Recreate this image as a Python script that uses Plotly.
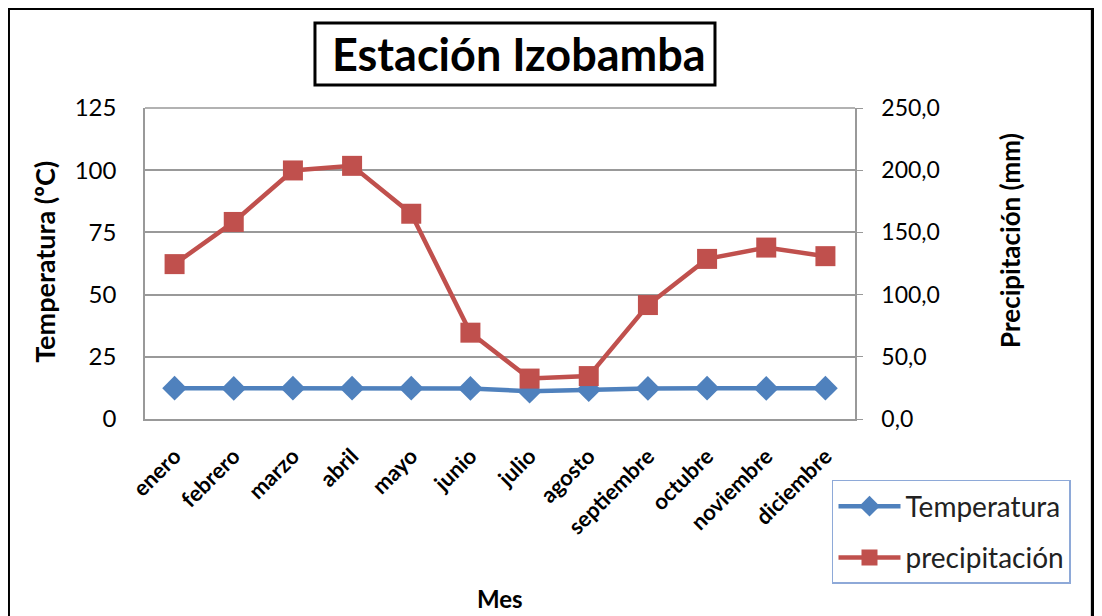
import plotly.graph_objects as go

meses = ['enero', 'febrero', 'marzo', 'abril', 'mayo', 'junio', 'julio',
         'agosto', 'septiembre', 'octubre', 'noviembre', 'diciembre']
temperatura = [12.4, 12.3, 12.4, 12.4, 12.4, 12.3, 11.2, 11.8, 12.3, 12.4, 12.3, 12.4]
precipitacion = [124.5, 158.4, 199.8, 203.5, 165.0, 69.4, 32.5, 34.5, 91.6, 128.7, 137.8, 130.9]

azul = '#4F81BD'
rojo = '#C0504D'
fuente = 'Lato'

fig = go.Figure()
fig.add_trace(go.Scatter(x=meses, y=temperatura, name='Temperatura', mode='lines+markers',
                         legendgroup='t', line=dict(color=azul, width=4.5),
                         marker=dict(symbol='diamond', size=19, color=azul)))
fig.add_trace(go.Scatter(x=meses, y=precipitacion, name='precipitación', mode='lines+markers',
                         legendgroup='p', yaxis='y2', line=dict(color=rojo, width=4.5),
                         marker=dict(symbol='square', size=20, color=rojo)))

# la pagina tiene un margen de 8px, por eso el lienzo es 1094x608
fig.update_layout(
    width=1094, height=608,
    margin=dict(l=137, r=247, t=100, b=197, autoexpand=False),
    paper_bgcolor='white', plot_bgcolor='white',
    separators=',.',
    font=dict(family=fuente, size=20, color='black'),
    xaxis=dict(tickangle=-45, showgrid=False, showline=True, linecolor='#999999', linewidth=1.5,
               ticks='', ticklabelstandoff=14,
               tickfont=dict(family=fuente, size=22, color='black', weight='bold'),
               range=[-0.5, 11.5]),
    yaxis=dict(range=[0, 125], dtick=25, showgrid=True, gridcolor='#999999', gridwidth=1.5,
               showline=True, linecolor='#999999', linewidth=1.5, zeroline=False,
               ticks='', ticklabelstandoff=22, tickfont=dict(size=24)),
    yaxis2=dict(range=[0, 250], dtick=50, tickformat='.1f', overlaying='y', side='right',
                showgrid=False, showline=True, linecolor='#999999', linewidth=1.5, zeroline=False,
                ticks='outside', ticklen=6, tickcolor='#999999', ticklabelstandoff=14,
                tickfont=dict(size=23)),
    legend=dict(x=0.9676, y=-0.196, xanchor='left', yanchor='top',
                bordercolor='#8EA9D8', borderwidth=1.5, bgcolor='white',
                font=dict(size=28, color='#222222'), itemwidth=62, tracegroupgap=12),
    showlegend=True,
)

# marco exterior
fig.add_shape(type='rect', xref='paper', yref='paper', x0=-0.193, x1=1.335, y0=-0.7, y1=1.3215,
              line=dict(color='black', width=4), layer='below')
# borde superior del area de trazado
fig.add_shape(type='line', xref='paper', yref='paper', x0=0, x1=1, y0=1, y1=1,
              line=dict(color='#999999', width=1.5))
# recuadro del titulo
fig.add_shape(type='rect', xref='paper', yref='paper', x0=0.2394, x1=0.8028, y0=1.074, y1=1.2733,
              line=dict(color='black', width=3), fillcolor='white')

fig.add_annotation(text='Estación Izobamba', xref='paper', yref='paper', x=0.5268, y=1.1736,
                   xanchor='center', yanchor='middle', showarrow=False,
                   font=dict(size=45, family=fuente, weight='bold'))
fig.add_annotation(text='Temperatura (ºC)', xref='paper', yref='paper', x=-0.141, y=0.505,
                   xanchor='center', yanchor='middle', textangle=-90, showarrow=False,
                   font=dict(size=27, family=fuente, weight='bold'))
fig.add_annotation(text='Precipitación (mm)', xref='paper', yref='paper', x=1.218, y=0.575,
                   xanchor='center', yanchor='middle', textangle=-90, showarrow=False,
                   font=dict(size=26, family=fuente, weight='bold'))
fig.add_annotation(text='Mes', xref='paper', yref='paper', x=0.5, y=-0.577,
                   xanchor='center', yanchor='middle', showarrow=False,
                   font=dict(size=24, family=fuente, weight='bold'))

fig.write_html('out.html')
